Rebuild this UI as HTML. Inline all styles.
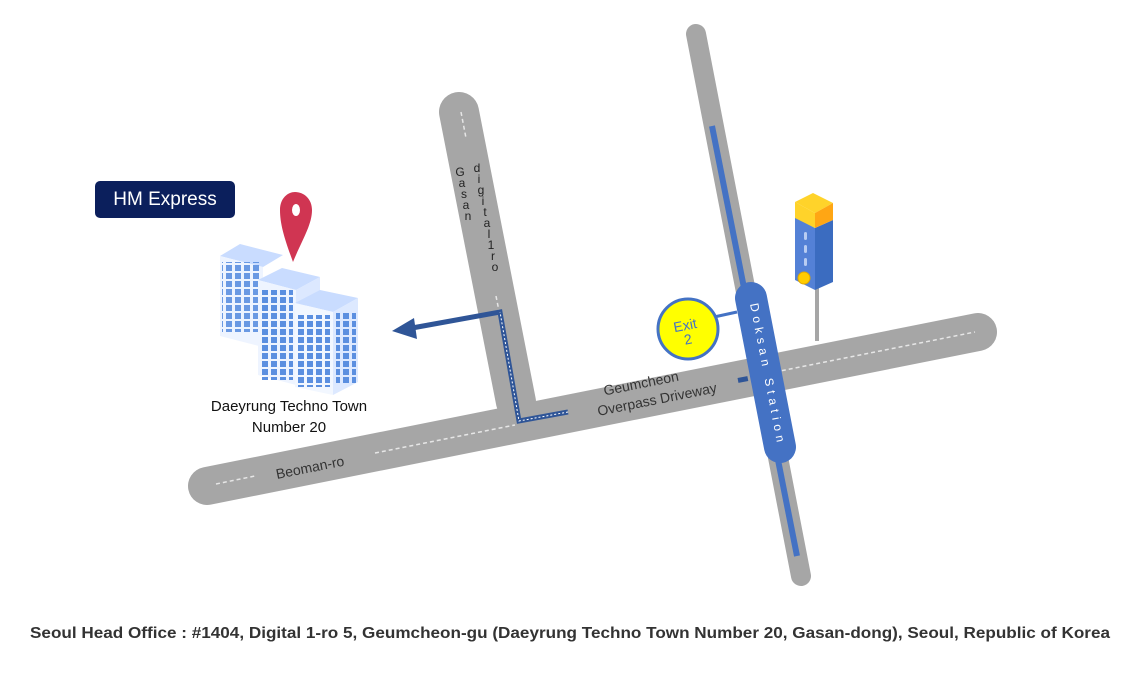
<!DOCTYPE html>
<html><head><meta charset="utf-8"><style>
html,body{margin:0;padding:0;background:#fff;}
svg{display:block;}
text{font-family:"Liberation Sans",sans-serif;}
</style></head><body>
<svg width="1140" height="675" viewBox="0 0 1140 675" xmlns="http://www.w3.org/2000/svg">
<defs>
<pattern id="win" width="9" height="8" patternUnits="userSpaceOnUse"><rect x="1" y="1" width="6" height="6" fill="#5b8fe0"/></pattern>
</defs>
<g stroke="#a6a6a6" stroke-linecap="round" fill="none">
<line x1="459" y1="112" x2="516" y2="402" stroke-width="40"/>
<line x1="207" y1="486" x2="978" y2="332" stroke-width="38"/>
<line x1="696" y1="34" x2="801" y2="576" stroke-width="20"/>
</g>
<g stroke="#e6e6e6" stroke-width="1.5" stroke-dasharray="4,3" fill="none">
<line x1="216" y1="484" x2="255" y2="476"/>
<line x1="375" y1="453" x2="515" y2="425"/>
<line x1="775" y1="372" x2="975" y2="332"/>
<line x1="461" y1="112" x2="466" y2="138"/>
<line x1="496" y1="296" x2="500" y2="316"/>
</g>
<line x1="712" y1="126" x2="797" y2="556" stroke="#4472c4" stroke-width="6"/>
<g fill="none" stroke-linejoin="miter">
<polyline points="568,412 519,421 500,312 412,328" stroke="#2f5597" stroke-width="5"/>
<polyline points="568,412 519,421 500,312" stroke="#fff" stroke-width="1" stroke-dasharray="2,2"/>
</g>
<polygon points="392,331 414,318 417,339" fill="#2f5597"/>
<rect x="738" y="377" width="10" height="5" fill="#2f5597" transform="rotate(-11 743 380)"/>
<text x="0" y="0" font-size="14" fill="#333" transform="translate(277,479) rotate(-11.3)">Beoman-ro</text>
<text x="0" y="0" font-size="14" fill="#333" text-anchor="middle" transform="translate(642,388) rotate(-11.3)">Geumcheon</text>
<text x="0" y="0" font-size="14" fill="#333" text-anchor="middle" transform="translate(658,404) rotate(-11.3)">Overpass Driveway</text>
<g font-size="12" fill="#222" text-anchor="middle">
<text x="460" y="176">G</text><text x="462" y="187">a</text><text x="464" y="198">s</text><text x="466" y="209">a</text><text x="468" y="220">n</text>
<text x="477" y="172">d</text><text x="479" y="183">i</text><text x="481" y="194">g</text><text x="483" y="205">i</text><text x="485" y="216">t</text><text x="487" y="227">a</text><text x="489" y="238">l</text><text x="491" y="249">1</text><text x="493" y="260">r</text><text x="495" y="271">o</text>
</g>
<line x1="751" y1="298" x2="780" y2="447" stroke="#4472c4" stroke-width="32" stroke-linecap="round"/>
<text x="0" y="0" font-size="12" fill="#fff" letter-spacing="4.6" transform="translate(750,304) rotate(79)">Doksan Station</text>
<line x1="714" y1="317" x2="737" y2="312" stroke="#4472c4" stroke-width="3"/>
<circle cx="688" cy="329" r="30" fill="#ffff00" stroke="#4472c4" stroke-width="3"/>
<g font-size="14" fill="#4472c4" text-anchor="middle">
<text x="0" y="0" transform="translate(686,330) rotate(-11)">Exit</text>
<text x="0" y="0" transform="translate(689,344) rotate(-11)">2</text>
</g>
<rect x="815" y="285" width="4" height="56" fill="#a6a6a6"/>
<polygon points="795,217 815,228 815,290 795,280" fill="#5481d6"/>
<polygon points="815,228 833,220 833,282 815,290" fill="#3b6cc0"/>
<polygon points="795,202 813,193 833,203 815,213" fill="#ffd32a"/>
<polygon points="795,202 815,213 815,228 795,218" fill="#ffd32a"/>
<polygon points="815,213 833,203 833,220 815,228" fill="#ffa614"/>
<g fill="#b8ccf2"><rect x="804" y="232" width="3" height="8" rx="1.5"/><rect x="804" y="245" width="3" height="8" rx="1.5"/><rect x="804" y="258" width="3" height="8" rx="1.5"/></g>
<circle cx="804" cy="278" r="6" fill="#ffcc00" stroke="#e0a800"/>
<rect x="95" y="181" width="140" height="37" rx="5" fill="#0b1f5c"/>
<text x="165" y="205" font-size="19" fill="#fff" text-anchor="middle">HM Express</text>
<g>
<polygon points="220,256 240,244 283,255 263,267" fill="#c9dcff"/>
<polygon points="220,256 263,267 263,347 220,336" fill="#eef4ff"/>
<rect x="222" y="262" width="38" height="70" fill="url(#win)" opacity="0.9"/>
<polygon points="258,280 282,268 320,277 296,290" fill="#c9dcff"/>
<polygon points="258,280 296,290 296,385 258,375" fill="#eef4ff"/>
<rect x="261" y="290" width="32" height="90" fill="url(#win)"/>
<polygon points="296,290 320,277 320,300 296,310" fill="#dce8ff"/>
<polygon points="295,303 320,290 358,298 333,312" fill="#c9dcff"/>
<polygon points="295,303 333,312 333,395 295,387" fill="#f2f7ff"/>
<polygon points="333,312 358,298 358,382 333,395" fill="#dde9ff"/>
<rect x="298" y="315" width="32" height="72" fill="url(#win)"/>
<rect x="336" y="312" width="20" height="72" fill="url(#win)"/>
</g>
<path d="M293,262 C285,240 280,225 280,210 C280,198 288,192 295,192 C304,192 312,199 312,210 C312,225 302,240 293,262 Z" fill="#d03552"/>
<ellipse cx="296" cy="210" rx="4" ry="6" fill="#fff"/>
<text x="289" y="411" font-size="15" fill="#111" text-anchor="middle">Daeyrung Techno Town</text>
<text x="289" y="432" font-size="15" fill="#111" text-anchor="middle">Number 20</text>
<text x="30" y="638" font-size="16" font-weight="bold" fill="#333" textLength="1080" lengthAdjust="spacingAndGlyphs">Seoul Head Office : #1404, Digital 1-ro 5, Geumcheon-gu (Daeyrung Techno Town Number 20, Gasan-dong), Seoul, Republic of Korea</text>
</svg>
</body></html>
